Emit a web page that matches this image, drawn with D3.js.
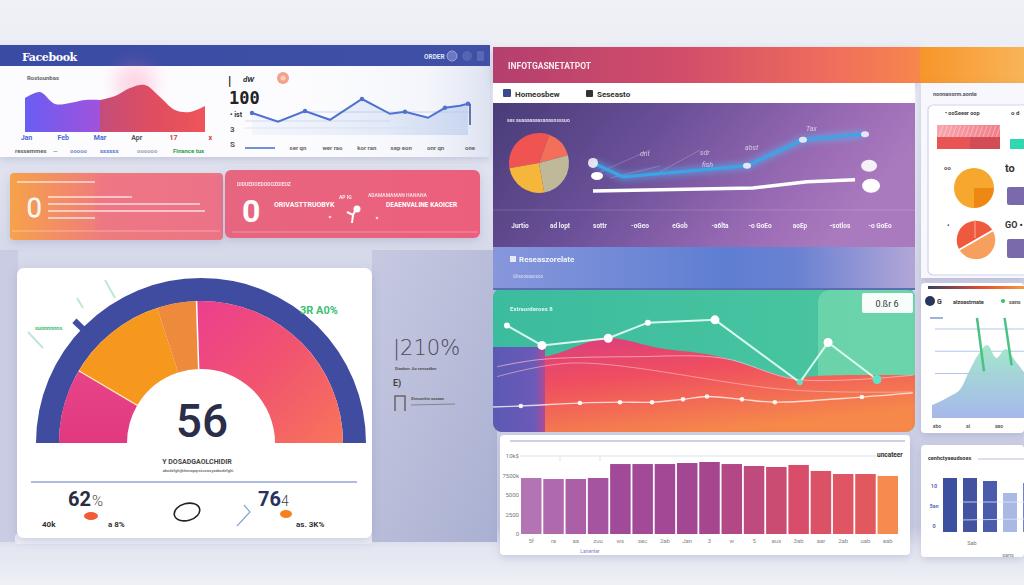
<!DOCTYPE html>
<html><head><meta charset="utf-8">
<script src="https://cdn.jsdelivr.net/npm/d3@7"></script>
<style>
html,body{margin:0;padding:0;background:#eceef5;overflow:hidden}
svg{display:block;font-family:Roboto,"DejaVu Sans",sans-serif}
</style></head><body>
<svg id="c" width="1024" height="585"></svg>
<script>
// ---------------- DATA ----------------
const appTitle = "Facebook";
const revenueLabels = ["Jan","Feb","Mar","Apr","17","x"];
const revenueValues = [68,80,56,58,64,64,72,88,94,70,44,40,52];
const revenueSplit = 5;
const legendLabels = ["ressemmes","—","ooooo","ssssss","oooooo","Finance tux"];
const visitDays = [0,26,53,78,110,138,153,176,193,208,216];
const visitValues = [55,33,60,38,90,53,58,43,68,73,78];
const visitTicks = ["ser qn","wer rao","kor ran","sep eon","onr qn","one"];
const gaugeShares = [17,23,9,51];
const gaugeValue = "56";
const gaugeStats = ["62","76"];
const gaugeSub = ["40k","a 8%","as. 3K%"];
const trendX = [0,1.08,5.56,7.58,9.82];
const trendBlue = [53,33,49,86,94];
const trendWhiteX = [0,5.78,7.73,9.46];
const trendWhite = [13,17,26,29];
const trendMonths = ["Jurtio","ad lopt","sottr","-oGeo","eGob","-a6lta","-o GoEo","aoEp","-sotlos","-o GoEo"];
const pieValues = [120,55,95,90];
const flowX = [3.3,11.6,27.3,36.7,52.6,72.7,79.4,91];
const flowY = [75,61,66,77,79,35,63,37];
const redX = [0,11.8,27,39.6,52,72.7,75,99.5,100];
const redY = [56,53,66,59,54,37,39,40,40];
const guideAX = [1,11,33,54.5,72,99.5];
const guideAY = [46,51,53,52,37,40];
const guideBX = [1,19,70.4,99.5];
const guideBY = [39,48.6,29.6,28.2];
const baseX = [0,6.6,20.6,30.1,37.7,45,50.7,59,66.8,87.4,99.5];
const baseY = [17.6,18.3,20.4,21,21,23,25,23,21,24.6,27.5];
const barLabels = ["5f","ra","aa","zuu","ws","sec","2ab","Jan","3","w","5","aux","3ab","aar","2ab","uab","aab"];
const barValues = [7180,7050,7050,7180,8970,8970,8970,9100,9230,8970,8720,8590,8850,8080,7690,7690,7440];
const barTicks = [0,2500,5000,7500,10000];
const barTickLabels = ["0","2500","5000","7500k","10k$"];
const sideArea = [17.5,23,29.7,37.8,62,85,98.4,81,93,78,62];
const sideSpikes = [5,8];
const sideTicks = [60,90,120];
const sideBars = [54,54,51,39,49];
const sideBarTicks = ["0","5an","10"];
const orangePie = [25,75];
const redPie = [50,50];

// ---------------- HELPERS ----------------
const svg = d3.select("#c");
const defs = svg.append("defs");
let gid = 0;
function grad(stops,x1=0,y1=0,x2=1,y2=0,user=false){
  const id="lg"+(gid++);
  const g=defs.append("linearGradient").attr("id",id).attr("x1",x1).attr("y1",y1).attr("x2",x2).attr("y2",y2);
  if(user) g.attr("gradientUnits","userSpaceOnUse");
  stops.forEach(s=>g.append("stop").attr("offset",s[0]).attr("stop-color",s[1]).attr("stop-opacity",s.length>2?s[2]:1));
  return `url(#${id})`;
}
const sh=defs.append("filter").attr("id","sh").attr("x","-10%").attr("y","-10%").attr("width","120%").attr("height","135%");
sh.append("feDropShadow").attr("dx",0).attr("dy",3).attr("stdDeviation",4).attr("flood-color","#5a6098").attr("flood-opacity",0.22);
const bl=defs.append("filter").attr("id","blur").attr("x","-50%").attr("y","-50%").attr("width","200%").attr("height","200%");
bl.append("feGaussianBlur").attr("stdDeviation",3);
const bl2=defs.append("filter").attr("id","blur2").attr("x","-50%").attr("y","-50%").attr("width","200%").attr("height","200%");
bl2.append("feGaussianBlur").attr("stdDeviation",9);
function txt(g,x,y,s,size,fill,o={}){
  return g.append("text").attr("x",x).attr("y",y).text(s).attr("font-size",size).attr("fill",fill)
    .attr("font-weight",o.w||400).attr("text-anchor",o.a||"start").attr("font-style",o.i?"italic":null)
    .attr("opacity",o.o==null?1:o.o).attr("font-family",o.f||null).attr("letter-spacing",o.ls||null);
}
function rect(g,x,y,w,h,fill,o={}){
  return g.append("rect").attr("x",x).attr("y",y).attr("width",w).attr("height",h).attr("fill",fill)
    .attr("rx",o.rx||0).attr("opacity",o.o==null?1:o.o).attr("filter",o.f||null).attr("stroke",o.s||null).attr("stroke-width",o.sw||null);
}
function line(g,x1,y1,x2,y2,stroke,w=1,o=1){
  return g.append("line").attr("x1",x1).attr("y1",y1).attr("x2",x2).attr("y2",y2).attr("stroke",stroke).attr("stroke-width",w).attr("opacity",o);
}

// ---------------- BACKGROUND ----------------
rect(svg,0,0,1024,585,grad([[0,"#f0f1f6"],[0.08,"#eceef5"],[0.3,"#e0e2ee"],[0.5,"#d2d5e7"],[0.9,"#cacde3"],[0.935,"#e3e5f0"],[1,"#eef0f5"]],0,0,0,1));
rect(svg,372,250,125,292,grad([[0,"#c6c9e0"],[1,"#aab0d2"]],0,0,1,1));
rect(svg,0,250,18,292,"#c9cce2");

// ---------------- TOP-LEFT PANEL ----------------
const P1 = svg.append("g");
rect(P1,0,45,490,112,"#fcfcfe",{f:"url(#sh)"});
rect(P1,240,66,250,91,grad([[0,"#ffffff",0],[0.75,"#eef1f9",0.6],[1,"#dde2f1",1]]));
rect(P1,0,45,490,21,grad([[0,"#3a4ba4"],[1,"#4050a6"]]));
txt(P1,22,61,appTitle,11,"#fff",{w:700,f:"DejaVu Serif",ls:-0.4});
txt(P1,424,59,"ORDER",6.5,"#dfe3f6",{w:700});
P1.append("circle").attr("cx",452).attr("cy",56).attr("r",5).attr("fill","#6a78c4").attr("stroke","#9aa5db");
P1.append("circle").attr("cx",467).attr("cy",56).attr("r",5).attr("fill","#5564b3");
rect(P1,477,51,7,10,"#5a68b6",{rx:1});
// pink glow
P1.append("circle").attr("cx",135).attr("cy",84).attr("r",20).attr("fill","#ff7aa6").attr("opacity",0.3).attr("filter","url(#blur2)");
txt(P1,27,80,"Rostounbas",6,"#666",{w:700});

const rx = d3.scaleLinear().domain([0,revenueValues.length-1]).range([25,205]);
const ry = d3.scaleLinear().domain([0,100]).range([132,82]);
const revArea = d3.area().x(d=>rx(d.i)).y0(ry(0)).y1(d=>ry(d.v)).curve(d3.curveCatmullRom);
const revPts = revenueValues.map((v,i)=>({i,v}));
P1.append("path").attr("d",revArea(revPts.slice(0,revenueSplit+1)))
  .attr("fill",grad([[0,"#6a5df3"],[1,"#a052dc"]]));
P1.append("path").attr("d",revArea(revPts.slice(revenueSplit)))
  .attr("fill",grad([[0,"#c44d7a"],[0.5,"#e04d60"],[1,"#ef5458"]]));
const revLabelColors = ["#4a66d8","#4a66d8","#4a66d8","#555","#d03a3a","#d03a3a"];
revenueLabels.forEach((l,i)=>txt(P1,rx(i*2.45+0.1),140,l,7,revLabelColors[i],{w:700,a:"middle"}));
const legX = [15,53,70,100,137,173];
const legC = ["#666","#3bbf5a","#7a8ad0","#5570d6","#9aa0b0","#2aa04a"];
legendLabels.forEach((l,i)=>txt(P1,legX[i],153,l,6,legC[i],{w:700}));

// line chart
const vx = d3.scaleLinear().domain([0,216]).range([252,468]);
const vy = d3.scaleLinear().domain([0,100]).range([135,95]);
const vPts = visitDays.map((d,i)=>({d,v:visitValues[i]}));
P1.append("path").attr("d",d3.area().x(d=>vx(d.d)).y0(135).y1(d=>vy(d.v))(vPts))
  .attr("fill",grad([[0,"#dfe7f7",0.3],[0.6,"#d5e0f4",0.6],[1,"#c5d4ef",0.9]]));
line(P1,300,112,470,112,"#b8c8ea",1,0.8);
line(P1,245,121,390,121,"#c8d4ef",1,0.8);
line(P1,245,128,470,128,"#d4def2",1,0.8);
P1.append("path").attr("d",d3.line().x(d=>vx(d.d)).y(d=>vy(d.v))(vPts)).attr("fill","none").attr("stroke","#4f71cf").attr("stroke-width",2);
P1.selectAll("circle.vp").data(vPts.filter((d,i)=>i%2===0)).join("circle").attr("cx",d=>vx(d.d)).attr("cy",d=>vy(d.v)).attr("r",2.2).attr("fill","#4f71cf");
line(P1,vx(216)+2,vy(visitValues[visitValues.length-1]),vx(216)+2,125,"#3a4f90",1.5);
rect(P1,245,147,30,2,"#7090d8");
const vt = d3.scalePoint().domain(visitTicks).range([298,470]);
visitTicks.forEach(t=>txt(P1,vt(t),150,t,6,"#666",{w:700,a:"middle"}));
txt(P1,228,85,"|",13,"#222",{w:700});
txt(P1,243,82,"dW",8,"#333",{w:700,i:true});
P1.append("circle").attr("cx",283).attr("cy",78).attr("r",6).attr("fill","#f5a08a");
P1.append("circle").attr("cx",283).attr("cy",78).attr("r",2.5).attr("fill","#fbd0c4");
txt(P1,229,104,"100",17,"#222",{w:700,f:"DejaVu Sans Mono"});
txt(P1,230,117,"• ist",7,"#333",{w:700});
txt(P1,230,132,"3",8,"#555",{w:700});
txt(P1,230,147,"S",8,"#555",{w:700});

// ---------------- CARDS ----------------
const C = svg.append("g");
rect(C,10,173,213,67,grad([[0,"#f6a24a"],[0.2,"#f39062"],[0.45,"#ee7b7e"],[1,"#ec7484"]]),{rx:4,f:"url(#sh)"});
rect(C,95,176,128,55,"#ee7190",{o:0.35});
line(C,17,182,95,182,"#fff",1.5,0.7);
[[48,197,132],[48,204,200],[48,211,205],[48,218,95]].forEach(a=>line(C,a[0],a[1],a[2],a[1],"#fff",1.3,0.75));
line(C,12,231,220,231,"#fff",1,0.35);
txt(C,27,217,"0",26,"#f7b7a0",{w:300}).attr("stroke","#fff").attr("stroke-width",1.2);

rect(C,225,170,255,68,grad([[0,"#e7667f"],[1,"#ec5f7c"]]),{rx:6,f:"url(#sh)"});
txt(C,237,186,"DIDUEDOEDODOZDIEOZ",5,"#fff",{w:700,o:0.8});
txt(C,242,222,"0",32,"#fff",{w:700});
txt(C,274,207,"ORIVASTTRUOBYK",7,"#fff",{w:700});
txt(C,339,199,"AP IG",5,"#fff",{w:700,o:0.85});
C.append("circle").attr("cx",357).attr("cy",209).attr("r",3.5).attr("fill","#fff");
C.append("path").attr("d","M347,212 L353,215 L356,209 M353,215 L352,223").attr("stroke","#fff").attr("stroke-width",2).attr("fill","none");
C.append("circle").attr("cx",330).attr("cy",217).attr("r",1.3).attr("fill","#fff").attr("opacity",0.7);
C.append("circle").attr("cx",377).attr("cy",218).attr("r",1.3).attr("fill","#fff").attr("opacity",0.7);
txt(C,368,197,"ADAMAMAMAN HANANA",5,"#fff",{w:700,o:0.75});
txt(C,386,207,"DEAENVALINE KAOICER",6.5,"#fff",{w:700});
line(C,232,232,478,232,"#fff",1,0.3);

// ---------------- GAUGE PANEL ----------------
const G = svg.append("g");
rect(G,15,534,357,10,"#eef0f6",{rx:3,o:0.9});
rect(G,17,268,355,270,"#fff",{rx:7,f:"url(#sh)"});
[[28,332,43,348],[77,298,83,308],[105,280,115,298]].forEach(a=>line(G,a[0],a[1],a[2],a[3],"#a8dcc0",2,0.7));
const gcx=201,gcy=443;
const gg=G.append("g").attr("transform",`translate(${gcx},${gcy})`);
gg.append("path").attr("d",d3.arc()({innerRadius:142,outerRadius:165,startAngle:-Math.PI/2,endAngle:Math.PI/2})).attr("fill","#3f4c9f");
const gpie=d3.pie().sort(null).startAngle(-Math.PI/2).endAngle(Math.PI/2);
const garc=d3.arc().innerRadius(74).outerRadius(142);
const gfills=[grad([[0,"#e8448a"],[1,"#e0397f"]],0,0,0,1),"#f7981e","#ee8a3c",
  grad([[0,"#ec3e8f"],[0.5,"#f1546f"],[1,"#f8755a"]],0,0,1,1)];
const gArcs = gpie(gaugeShares);
gg.selectAll("path.seg").data(gArcs).join("path").attr("class","seg").attr("d",garc).attr("fill",(d,i)=>gfills[i]);
function radial(a,r1,r2,stroke,w){
  gg.append("line").attr("x1",r1*Math.sin(a)).attr("y1",-r1*Math.cos(a)).attr("x2",r2*Math.sin(a)).attr("y2",-r2*Math.cos(a)).attr("stroke",stroke).attr("stroke-width",w);
}
radial(gArcs[0].endAngle,74,142,"#fde7b5",1.3);
radial(gArcs[2].endAngle,74,142,"#fff",1.5);
radial(-46*Math.PI/180,160,176,"#3f4c9f",6);
txt(G,202,437,gaugeValue,46,"#2b2e48",{a:"middle",w:500});
txt(G,197,464,"Y DOSADGAOLCHIDIR",7,"#444",{a:"middle",w:700});
txt(G,198,472,"abcdefghijklmnopqrstuvwxyzabcdefghi",4,"#777",{a:"middle",w:700});
line(G,31,482,357,482,"#93a3d6",1.5);
txt(G,300,314,"3R A0%",11,"#3cc070",{w:700});
txt(G,35,330,"suonnnnns",5.5,"#3cc070",{w:700});
txt(G,68,506,gaugeStats[0],20,"#2a2c40",{w:700});
txt(G,92,506,"%",15,"#444",{w:300});
G.append("ellipse").attr("cx",91).attr("cy",516).attr("rx",7).attr("ry",4).attr("fill","#f05a36");
txt(G,42,527,gaugeSub[0],8,"#333",{w:700});
txt(G,108,527,gaugeSub[1],8,"#333",{w:700});
G.append("ellipse").attr("cx",187).attr("cy",512).attr("rx",13).attr("ry",8.5).attr("transform","rotate(-15 187 512)").attr("fill","none").attr("stroke","#222").attr("stroke-width",1.6);
G.append("path").attr("d","M244,505 L250,512 L237,526").attr("fill","none").attr("stroke","#8aa4d8").attr("stroke-width",1.2);
txt(G,258,506,gaugeStats[1],20,"#2a3060",{w:700});
txt(G,281,506,"4",14,"#444",{w:300});
G.append("ellipse").attr("cx",286).attr("cy",514).attr("rx",6).attr("ry",4).attr("fill","#f5801e");
txt(G,296,527,gaugeSub[2],8,"#333",{w:700});

// side text
txt(svg,393,355,"|210%",21,"#4a4a55",{w:300,f:"DejaVu Sans"});
txt(svg,395,370,"Diaoban. Ao sensadbm",4,"#555",{w:700});
txt(svg,393,386,"E)",9,"#444",{w:700});
svg.append("path").attr("d","M395,411 L395,396 L405,396 L405,411").attr("fill","none").attr("stroke","#666").attr("stroke-width",1.5);
txt(svg,411,400,"Simsonhin oaoaae",4,"#555",{w:700});
line(svg,411,405,455,404,"#777",1,0.8);

// ---------------- TOP-RIGHT PANEL ----------------
const R = svg.append("g");
rect(R,493,47,427,36,grad([[0,"#b43f6f"],[0.45,"#d24e6a"],[0.8,"#f06e5c"],[1,"#f6874c"]]),{f:"url(#sh)"});
rect(R,920,47,104,36,grad([[0,"#f7952a"],[1,"#f9b458"]]));
txt(R,508,69,"INFOTGASNETATPOT",8.5,"#fff",{w:700,o:0.9});
rect(R,493,83,422,20,"#fff");
rect(R,503,89,8,8,"#3b4a8a",{rx:1});
txt(R,515,97,"Homeosbew",8,"#333",{w:700});
rect(R,586,90,7,7,"#333",{rx:1});
txt(R,597,97,"Seseasto",8,"#333",{w:700});
rect(R,493,103,422,144,grad([[0,"#493c79"],[0.4,"#694f97"],[0.8,"#9a6bb5"],[1,"#a97abd"]],0,0,1,0.3));
txt(R,507,122,"ses auaaaaaaasanasnsssuo",5,"#fff",{w:700,o:0.8});
line(R,493,210,915,210,"#fff",1,0.15);
const pieG = R.append("g").attr("transform","translate(539,163)");
const pieCols = ["#ef5452","#f36f5a","#bfb99a","#f6b63c"];
pieG.selectAll("path").data(d3.pie().sort(null).startAngle(-100*Math.PI/180).endAngle(260*Math.PI/180)(pieValues))
  .join("path").attr("d",d3.arc().innerRadius(0).outerRadius(30)).attr("fill",(d,i)=>pieCols[i]);
const tx = d3.scaleLinear().domain([0,10]).range([593,870]);
const ty = d3.scaleLinear().domain([0,100]).range([200,130]);
const tBlue = trendX.map((x,i)=>[tx(x),ty(trendBlue[i])]);
const tWhite = trendWhiteX.map((x,i)=>[tx(x),ty(trendWhite[i])]);
[[600,172,650,150],[660,172,700,150],[610,178,660,166]].forEach(a=>line(R,a[0],a[1],a[2],a[3],"#fff",0.6,0.35));
R.append("path").attr("d",d3.line()(tBlue)).attr("fill","none").attr("stroke","#4ec3ff").attr("stroke-width",7).attr("opacity",0.5).attr("filter","url(#blur)");
R.append("path").attr("d",d3.line()(tBlue)).attr("fill","none").attr("stroke","#3aa6e8").attr("stroke-width",3);
R.append("path").attr("d",d3.line()(tWhite)).attr("fill","none").attr("stroke","#fff").attr("stroke-width",3.5);
tBlue.forEach((p,i)=>{ if(i!==1) R.append("ellipse").attr("cx",p[0]).attr("cy",p[1]).attr("rx",i===0?5:4).attr("ry",i===0?5:3).attr("fill","#f3eefa").attr("opacity",0.9); });
const lw = tWhite[tWhite.length-1];
R.append("ellipse").attr("cx",lw[0]+16).attr("cy",lw[1]+6).attr("rx",9).attr("ry",7).attr("fill","#fff");
R.append("ellipse").attr("cx",lw[0]+14).attr("cy",lw[1]-14).attr("rx",8).attr("ry",6).attr("fill","#fff").attr("opacity",0.9);
R.append("ellipse").attr("cx",tWhite[0][0]+4).attr("cy",tWhite[0][1]-15).attr("rx",6).attr("ry",4).attr("fill","#fff");
[["dnt",640,156],["sdr",700,155],["abst",745,150],["fish",702,167],["Tax",806,131]].forEach(a=>txt(R,a[1],a[2],a[0],7,"#fff",{i:true,o:0.65}));
const tm = d3.scalePoint().domain(d3.range(trendMonths.length)).range([520,880]);
trendMonths.forEach((m,i)=>txt(R,tm(i),228,m,6.5,"#fff",{w:700,a:"middle",o:0.9}));
rect(R,493,247,422,41,grad([[0,"#8797dc"],[0.55,"#5e7ed2"],[0.72,"#6a82d2"],[1,"#b3a6d8"]]));
rect(R,510,256,6,6,"#fff",{o:0.8});
txt(R,519,262,"Reseaszorelate",8,"#fff",{w:700,o:0.9});
txt(R,513,278,"Ghsoosasosoo",4.5,"#fff",{o:0.7});

// ---------------- GREEN PANEL ----------------
const GP = svg.append("g");
defs.append("clipPath").attr("id","gclip").append("rect").attr("x",493).attr("y",288).attr("width",422).attr("height",144).attr("rx",9);
line(GP,493,289,915,289,"#5a6fb0",2);
const gpc = GP.append("g").attr("clip-path","url(#gclip)");
const fx = d3.scaleLinear().domain([0,100]).range([493,915]);
const fy = d3.scaleLinear().domain([0,100]).range([432,290]);
rect(gpc,493,290,422,142,grad([[0,"#3cbc9e"],[1,"#4bc6a0"]]));
rect(gpc,818,290,100,142,"#7adaae",{rx:12,o:0.7});
gpc.append("path").attr("d",d3.area().x((d,i)=>fx(redX[i])).y0(432).y1(d=>fy(d)).curve(d3.curveCatmullRom)(redY))
  .attr("fill",grad([[0,"#d83c82"],[0.45,"#ef4e60"],[1,"#f6884a"]],0,0,0.5,1));
rect(gpc,493,347,52,85,grad([[0,"#5a5ab4"],[0.8,"#6c5ab8"],[1,"#b04a98"]]));
function series(xs,ys,curve){ return d3.line().x((d,i)=>fx(xs[i])).y(d=>fy(d)).curve(curve||d3.curveLinear)(ys); }
gpc.append("path").attr("d",series(guideAX,guideAY,d3.curveCatmullRom)).attr("fill","none").attr("stroke","#ffc2cc").attr("stroke-width",1).attr("opacity",0.7);
gpc.append("path").attr("d",series(guideBX,guideBY,d3.curveCatmullRom)).attr("fill","none").attr("stroke","#ffc2cc").attr("stroke-width",1).attr("opacity",0.6);
gpc.append("path").attr("d",series(baseX,baseY,d3.curveCatmullRom)).attr("fill","none").attr("stroke","#fff").attr("stroke-width",1.3).attr("opacity",0.75);
gpc.selectAll("circle.bd").data(baseY.slice(1,-1)).join("circle").attr("cx",(d,i)=>fx(baseX[i+1])).attr("cy",d=>fy(d)).attr("r",2.3).attr("fill","#fff").attr("opacity",0.9);
gpc.append("path").attr("d",series(flowX,flowY)).attr("fill","none").attr("stroke","#e6fff5").attr("stroke-width",2).attr("opacity",0.9);
gpc.selectAll("circle.fd").data(flowY).join("circle").attr("cx",(d,i)=>fx(flowX[i])).attr("cy",d=>fy(d))
  .attr("r",(d,i)=>[0,3,5].includes(i)?3:4.5).attr("fill",(d,i)=>[5,7].includes(i)?"#5fe3c8":"#fff");
rect(GP,862,293,51,20,"#fff",{rx:2,o:0.95});
txt(GP,887,307,"0.ßr 6",9,"#333",{a:"middle"});
txt(GP,510,311,"Extraorderoes 8",6,"#fff",{w:700,o:0.85});

// ---------------- BAR CHART PANEL ----------------
const B = svg.append("g");
rect(B,500,435,410,120,"#fff",{rx:4,f:"url(#sh)"});
line(B,510,441,905,441,"#b8c0dc",1.5);
const bx = d3.scaleBand().domain(d3.range(barValues.length)).range([521,898]).paddingInner(0.08);
const by = d3.scaleLinear().domain([0,10000]).range([534,456]);
line(B,520,by(10000),900,by(10000),"#dfe1ec",1);
line(B,600,by(10000),600,by(9300),"#dfe1ec",1);
line(B,560,by(10000),560,by(9300),"#e8e9f0",1);
barTicks.forEach((t,i)=>txt(B,519,by(t)+2,barTickLabels[i],6,"#777",{a:"end"}));
const bc = d3.scaleLinear().domain([0,4,8,12,15,16]).range(["#b274b3","#a14a9a","#a5468f","#d84e6a","#e2585f","#f58b4e"]);
B.selectAll("rect.bar").data(barValues).join("rect").attr("class","bar")
  .attr("x",(d,i)=>bx(i)).attr("width",bx.bandwidth())
  .attr("y",d=>by(d)).attr("height",d=>by(0)-by(d)).attr("fill",(d,i)=>bc(i));
barLabels.forEach((l,i)=>txt(B,bx(i)+bx.bandwidth()/2,543,l,6,"#888",{a:"middle"}));
txt(B,877,457,"uncateer",6.5,"#333",{w:700});
txt(B,590,553,"Lanenter",5,"#7a86c0",{a:"middle"});

// ---------------- RIGHT COLUMN ----------------
const S = svg.append("g");
rect(S,921,83,103,195,"#f8f8fc",{f:"url(#sh)"});
txt(S,933,96,"nonnanorm.aonte",5.5,"#556",{w:700});
rect(S,928,105,100,170,"#fff",{rx:5,s:"#cfd4ec",sw:1.2});
txt(S,945,115,"• ooSeeer oop",5.5,"#444",{w:700});
txt(S,1011,115,"o d",6,"#444",{w:700});
rect(S,937,125,63,12,grad([[0,"#f7a6ae"],[1,"#f27e88"]]));
for(let k=0;k<14;k++) line(S,939+k*4.4,137,943+k*4.4,126,"#fff",0.8,0.45);
rect(S,937,137,63,12,"#e85353");
rect(S,970,137,30,12,"#c84a55",{o:0.7});
rect(S,1010,139,14,10,"#30d8b2");
txt(S,944,170,"oo",6,"#555",{w:700});
txt(S,1005,172,"to",11,"#333",{w:700});
txt(S,947,228,"•",7,"#555",{w:700});
txt(S,1005,228,"GO •",9,"#333",{w:700});
rect(S,1007,187,20,18,"#7a6aac",{rx:2});
rect(S,1007,239,20,19,"#7a6aac",{rx:2});
const op = S.append("g").attr("transform","translate(974,188)");
op.selectAll("path").data(d3.pie().sort(null).startAngle(Math.PI/2).endAngle(Math.PI/2+2*Math.PI)(orangePie))
  .join("path").attr("d",d3.arc().innerRadius(0).outerRadius(20)).attr("fill",(d,i)=>["#ef8812","#f5a72e"][i]);
const rp = S.append("g").attr("transform","translate(976,240)");
rp.selectAll("path").data(d3.pie().sort(null).startAngle(Math.PI/3).endAngle(Math.PI/3+2*Math.PI)(redPie))
  .join("path").attr("d",d3.arc().innerRadius(0).outerRadius(20)).attr("fill",(d,i)=>["#f7a05e","#ef5a3e"][i]).attr("stroke","#fff").attr("stroke-width",1.5);
rp.append("line").attr("x1",-1).attr("y1",-20).attr("x2",-1).attr("y2",-2).attr("stroke","#f7a08a").attr("stroke-width",1.2);

rect(S,921,283,103,150,"#fff",{rx:4,f:"url(#sh)"});
rect(S,928,286,96,3,grad([[0,"#3a3f60"],[0.6,"#e85030"],[1,"#f29a40"]]));
S.append("circle").attr("cx",930).attr("cy",301).attr("r",5).attr("fill","#27365e");
txt(S,937,304,"G",7,"#333",{w:700});
txt(S,953,304,"alzoastrnate",5.5,"#333",{w:700});
S.append("circle").attr("cx",1003).attr("cy",301).attr("r",2).attr("fill","#3cc060");
txt(S,1009,304,"sans",5.5,"#555",{w:700});
line(S,930,318,943,318,"#7a98d8",1.5);
const sx = d3.scaleLinear().domain([0,sideArea.length-1]).range([932,1024]);
const sy = d3.scaleLinear().domain([0,120]).range([418,329]);
sideTicks.forEach(t=>line(S,935,sy(t),1024,sy(t),"#a8c0e8",1.2,0.9));
S.append("path").attr("d",d3.area().x((d,i)=>sx(i)).y0(418).y1(d=>sy(d)).curve(d3.curveCatmullRom)(sideArea))
  .attr("fill",grad([[0,"#9fe6c9"],[1,"#a2b4ea"]],0,0,0,1)).attr("opacity",0.95);
sideSpikes.forEach(i=>line(S,sx(i)-1,sy(135),sx(i)+6,sy(sideArea[i]-22),"#49c283",2.5));
["abo","ai","aao"].forEach((l,i)=>txt(S,937+i*31,428,l,5,"#666",{w:700,a:"middle"}));

rect(S,921,445,103,112,"#fff",{rx:4,f:"url(#sh)"});
txt(S,928,460,"cenhctyaeudsoes",5.5,"#333",{w:700});
line(S,978,459,1024,459,"#b8c0dc",1);
const sbx = d3.scaleBand().domain(d3.range(sideBars.length)).range([943,1037]).paddingInner(0.3);
const sby = d3.scaleLinear().domain([0,60]).range([532,472]);
const sbc = ["#3d4f9f","#43539f","#4a5cab","#a9b9e3","#6d82cb"];
S.selectAll("rect.sb").data(sideBars).join("rect").attr("x",(d,i)=>sbx(i)).attr("width",sbx.bandwidth())
  .attr("y",d=>sby(d)).attr("height",d=>sby(0)-sby(d)).attr("fill",(d,i)=>sbc[i]);
line(S,960,502,1024,502,"#dfe6f8",1,0.8);
line(S,960,520,1024,519,"#dfe6f8",1,0.8);
sideBarTicks.forEach((t,i)=>txt(S,934,sby(i*20)-4,t,5.5,"#5a6fc0",{w:700,a:"middle"}));
txt(S,972,545,"Sab",5.5,"#777",{a:"middle"});
txt(S,1008,557,"sans",5.5,"#777",{a:"middle"});
</script>
</body></html>
